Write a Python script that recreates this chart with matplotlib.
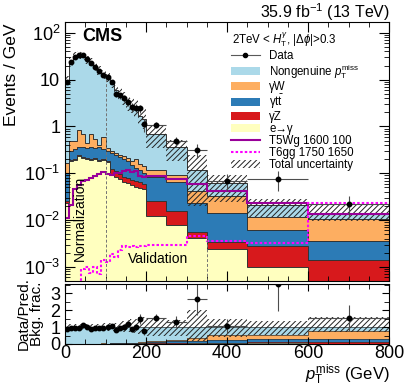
import numpy as np
import matplotlib
matplotlib.use("Agg")
import matplotlib.pyplot as plt
from matplotlib.lines import Line2D
from matplotlib.patches import Patch
from matplotlib.ticker import MultipleLocator, LogLocator, NullFormatter, FuncFormatter

plt.rcParams['font.family'] = ['Liberation Sans', 'DejaVu Sans']
plt.rcParams['mathtext.fontset'] = 'custom'
plt.rcParams['mathtext.rm'] = 'Liberation Sans'
plt.rcParams['mathtext.it'] = 'Liberation Sans:italic'
plt.rcParams['mathtext.bf'] = 'Liberation Sans:bold'
plt.rcParams['hatch.linewidth'] = 0.7

# bin edges (GeV)
edges = [0, 10, 20, 30, 40, 50, 60, 70, 80, 90, 100, 110, 120, 130, 140, 150,
         160, 170, 180, 190, 200, 250, 300, 350, 450, 600, 800]

# events / GeV
data = [9.0, 24, 31, 33, 34, 27, 23, 18.5, 15, 12.5, 11.5, 8.8, 5.0, 4.6, 4.0,
        3.3, 2.6, 2.5, 2.45, 1.1, 1.09, 0.48, 0.32, 0.068, 0.076, 0.022]
data_relerr = [0.1, 0.06, 0.05, 0.05, 0.05, 0.06, 0.06, 0.07, 0.08, 0.09, 0.09, 0.1,
               0.14, 0.15, 0.16, 0.17, 0.2, 0.2, 0.2, 0.3, 0.13, 0.25, 0.35, 0.4, 0.45, 0.5]

# cumulative stack tops (bottom -> top: e->gamma, gammaZ, gammatt, gammaW, nongenuine)
top_egamma = [0.023, 0.18, 0.19, 0.23, 0.21, 0.20, 0.19, 0.20, 0.18, 0.19, 0.17,
              0.094, 0.085, 0.075, 0.065, 0.062, 0.056, 0.052, 0.049, 0.047,
              0.012, 0.008, 0.0042, 0.0024, 0.00098, 1e-6]
top_gz = [0.025, 0.19, 0.20, 0.24, 0.22, 0.21, 0.20, 0.21, 0.19, 0.20, 0.18,
          0.125, 0.11, 0.098, 0.085, 0.08, 0.073, 0.068, 0.064, 0.06,
          0.025, 0.016, 0.0056, 0.0034, 0.0028, 0.0014]
top_gtt = [0.10, 0.30, 0.33, 0.36, 0.37, 0.35, 0.36, 0.34, 0.36, 0.33, 0.30,
           0.27, 0.25, 0.22, 0.20, 0.18, 0.15, 0.13, 0.12, 0.10,
           0.085, 0.065, 0.023, 0.0143, 0.0061, 0.0036]
top_gw = [0.166, 0.48, 0.50, 0.86, 0.68, 0.45, 0.68, 0.55, 0.41, 0.60, 0.34,
          0.30, 0.27, 0.25, 0.23, 0.21, 0.18, 0.20, 0.16, 0.14,
          0.12, 0.09, 0.041, 0.032, 0.0115, 0.0104]
top_total = [10, 25, 32, 34, 32, 27, 24, 19.5, 16, 13.3, 11.5, 8.8, 6.0, 5.0, 4.0,
             3.0, 2.8, 2.4, 1.7, 1.45, 0.70, 0.37, 0.12, 0.062, 0.021, 0.0135]
unc_dn = [0.22, 0.2, 0.2, 0.2, 0.2, 0.2, 0.2, 0.2, 0.2, 0.22, 0.22, 0.25, 0.25, 0.28,
          0.3, 0.3, 0.32, 0.35, 0.38, 0.4, 0.5, 0.5, 0.83, 0.6, 0.45, 0.3]
unc_up = [0.22, 0.2, 0.2, 0.2, 0.2, 0.2, 0.2, 0.2, 0.2, 0.22, 0.22, 0.25, 0.25, 0.3,
          0.35, 0.4, 0.45, 0.5, 0.6, 0.6, 0.55, 0.4, 1.0, 0.5, 0.35, 0.6]

# signals
t5wg = [0.011, 0.0215, 0.045, 0.055, 0.068, 0.073, 0.08, 0.086, 0.098, 0.105, 0.098,
        0.094, 0.1, 0.1, 0.11, 0.116, 0.104, 0.11, 0.089, 0.083,
        0.086, 0.076, 0.06, 0.041, 0.0227, 0.0132]
t6gg = [1e-5, 1e-5, 1e-5, 1e-5, 9e-4, 1.0e-3, 7.5e-4, 1.0e-3, 7e-4, 1.4e-3, 1.3e-3,
        1.9e-3, 1.6e-3, 2.3e-3, 2.8e-3, 2.6e-3, 2.8e-3, 2.6e-3, 2.8e-3, 2.8e-3,
        2.9e-3, 3.0e-3, 4.6e-3, 3.6e-3, 3.3e-3, 0.0227]

# ratio panel data / prediction
ratio = [0.86, 0.96, 0.94, 0.94, 1.1, 1.0, 0.9, 0.96, 0.94, 0.94, 1.0, 1.04, 0.80,
         0.94, 1.0, 1.2, 0.86, 1.0, 1.5, 0.75, 1.55, 1.31, 2.64, 1.04, 3.55, 1.55]

c_lb = '#abd9e9'
c_or = '#fdae61'
c_bl = '#2c7bb6'
c_rd = '#d7191c'
c_ye = '#ffffbf'

edges = np.array(edges, float)
centers = 0.5 * (edges[1:] + edges[:-1])
halfw = 0.5 * (edges[1:] - edges[:-1])
data = np.array(data)
tot = np.array(top_total)
layers = [np.array(top_egamma), np.array(top_gz), np.array(top_gtt), np.array(top_gw), tot]
colors = [c_ye, c_rd, c_bl, c_or, c_lb]

fig = plt.figure(figsize=(4.07, 3.91), dpi=100)
W, H = 407.0, 391.0
ax = fig.add_axes([65 / W, 1 - 281 / H, 324 / W, 259 / H])
axr = fig.add_axes([65 / W, 1 - 344 / H, 324 / W, 60 / H])

# main stack
base = np.full(len(tot), 1e-7)
for lay, col in zip(layers, colors):
    ax.stairs(lay, edges, baseline=base, fill=True, color=col, lw=0)
    base = lay
for lay in layers:
    ax.stairs(lay, edges, baseline=None, color='#333333', lw=0.7)

ax.plot([100, 100], [5e-4, 11], ls=(0, (3, 2)), color='0.45', lw=0.7)
ax.plot([350, 350], [5e-4, 0.0045], ls=(0, (3, 2)), color='0.45', lw=0.7)

ax.stairs(tot * (1 + np.array(unc_up)), edges, baseline=tot * (1 - np.array(unc_dn)),
          fill=True, facecolor='none', edgecolor='#222222', hatch='//////', lw=0)

ax.stairs(t5wg, edges, baseline=None, color='#990099', lw=1.5)
ax.stairs(t6gg, edges, baseline=None, color='#ff00ff', lw=1.5, ls=(0, (1.2, 1.0)))

ax.errorbar(centers, data, xerr=halfw, yerr=data * np.array(data_relerr), fmt='o',
            ms=3.2, color='k', ecolor='0.3', elinewidth=0.8, capsize=0)

ax.set_yscale('log')
ax.set_xlim(0, 800)
ax.set_ylim(5e-4, 170)
ax.set_xticklabels([])


def logfmt(v, pos):
    e = int(round(np.log10(v)))
    if e == 0:
        return '1'
    if e == 1:
        return '10'
    return '$10^{%d}$' % e


ax.text(0.052, 0.975, 'CMS', transform=ax.transAxes, fontsize=13, fontweight='bold',
        va='top', ha='left')
ax.text(37, 0.011, 'Normalization', rotation=90, fontsize=10, ha='center', va='center')
ax.text(155, 1.5e-3, 'Validation', fontsize=10, ha='left', va='center')
fig.text(12 / W, 1 - 24 / H, 'Events / GeV', rotation=90, fontsize=12.5, ha='center', va='top')

fig.text(390 / W, 1 - 18 / H, '35.9 fb$^{-1}$ (13 TeV)', ha='right', va='baseline', fontsize=11.5)
fig.text(232 / W, 1 - 40 / H, r'2TeV < $H_{\mathrm{T}}^{\gamma}$, $|\Delta\phi|$>0.3',
         ha='left', va='center', fontsize=8.3)

handles = [
    Line2D([], [], color='0.35', lw=0.8, marker='o', ms=3, mfc='k', mec='k'),
    Patch(facecolor=c_lb), Patch(facecolor=c_or), Patch(facecolor=c_bl),
    Patch(facecolor=c_rd), Patch(facecolor=c_ye),
    Line2D([], [], color='#990099', lw=1.5),
    Line2D([], [], color='#ff00ff', lw=1.5, ls=(0, (1.2, 1.0))),
    Patch(facecolor='none', edgecolor='#222222', hatch='//////', lw=0),
]
labels = ['Data', r'Nongenuine $p_{\mathrm{T}}^{\mathrm{miss}}$', 'γW',
          r'γt$\bar{\mathrm{t}}$', 'γZ', 'e→γ', 'T5Wg 1600 100',
          'T6gg 1750 1650', 'Total uncertainty']
fig.legend(handles, labels, loc='upper left', bbox_to_anchor=(231 / W, 1 - 50 / H),
           frameon=False, fontsize=8.3, handlelength=2.5, handleheight=0.7,
           handletextpad=0.8, labelspacing=0.0, borderpad=0, borderaxespad=0)

# ratio panel: background fractions
base = np.zeros(len(tot))
for lay, col in zip(layers, colors):
    frac = lay / tot
    axr.stairs(frac, edges, baseline=base, fill=True, color=col, lw=0)
    axr.stairs(frac, edges, baseline=None, color='#333333', lw=0.5)
    base = frac
axr.stairs(1 + np.array(unc_up), edges, baseline=1 - np.array(unc_dn), fill=True,
           facecolor='none', edgecolor='#222222', hatch='//////', lw=0)
ratio = np.array(ratio)
axr.errorbar(centers, ratio, xerr=halfw, yerr=ratio * np.array(data_relerr), fmt='o',
             ms=3.2, color='k', ecolor='0.3', elinewidth=0.8, capsize=0)
axr.set_xlim(0, 800)
axr.set_ylim(0, 3.55)
axr.set_ylabel('Data/Pred.\nBkg. frac.', fontsize=11, linespacing=1.0)
fig.text(390 / W, 1 - 380 / H, r'$p_{\mathrm{T}}^{\mathrm{miss}}$ (GeV)', fontsize=12,
         ha='right', va='baseline')

for a in (ax, axr):
    a.tick_params(which='both', direction='in', top=True, right=True, labelsize=13)
    a.tick_params(which='major', length=7, width=0.8)
    a.tick_params(which='minor', length=3.5, width=0.6)
    a.xaxis.set_major_locator(MultipleLocator(200))
    a.xaxis.set_minor_locator(MultipleLocator(50))
    for s in a.spines.values():
        s.set_linewidth(0.8)
ax.yaxis.set_major_locator(LogLocator(base=10, numticks=20))
ax.yaxis.set_minor_locator(LogLocator(base=10, subs=np.arange(2, 10), numticks=20))
ax.yaxis.set_minor_formatter(NullFormatter())
ax.yaxis.set_major_formatter(FuncFormatter(logfmt))
axr.yaxis.set_major_locator(MultipleLocator(1))
axr.yaxis.set_minor_locator(MultipleLocator(0.5))
axr.tick_params(which='major', length=5)
axr.tick_params(axis='x', pad=1)

fig.savefig('out.png', dpi=100)
